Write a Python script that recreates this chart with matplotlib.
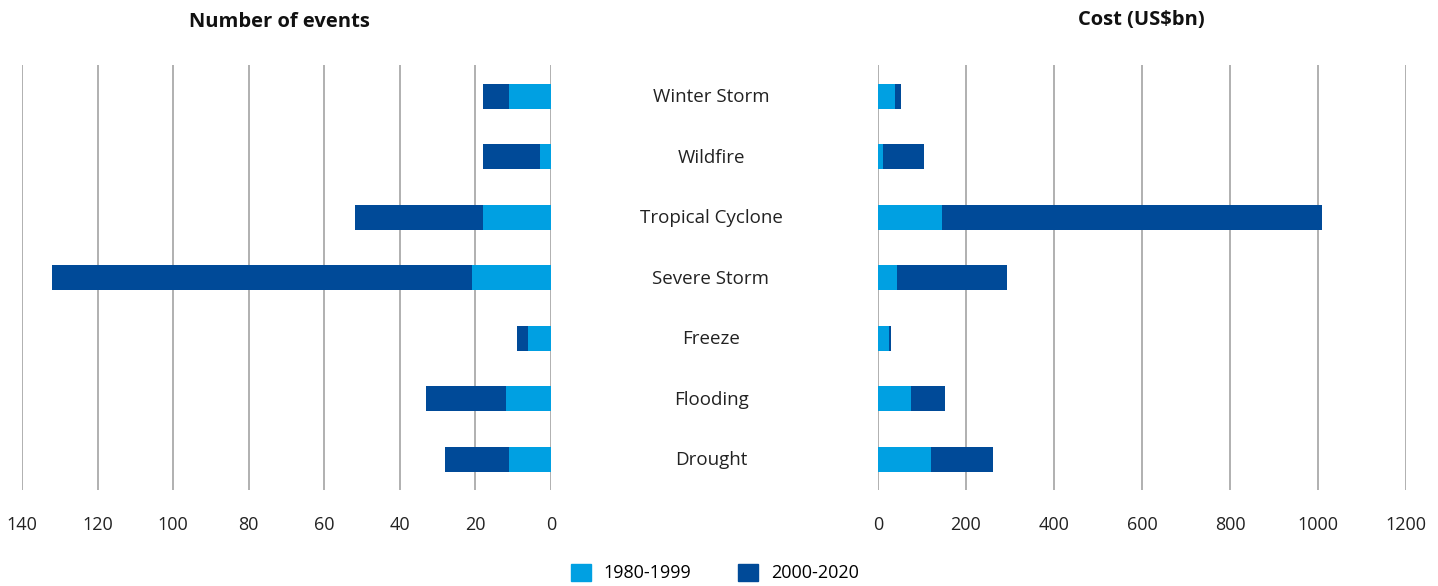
import matplotlib
matplotlib.use("Agg")
import matplotlib.pyplot as plt
import numpy as np

categories = ["Winter Storm", "Wildfire", "Tropical Cyclone", "Severe Storm", "Freeze", "Flooding", "Drought"]
events_1980_1999 = [11, 3, 18, 21, 6, 12, 11]
events_2000_2020 = [7, 15, 34, 111, 3, 21, 17]
cost_1980_1999 = [38, 11, 145, 43, 25, 76, 120]
cost_2000_2020 = [14, 93, 864, 250, 5, 77, 141]
series_labels = ["1980-1999", "2000-2020"]
events_ticks = [0, 20, 40, 60, 80, 100, 120, 140]
cost_ticks = [0, 200, 400, 600, 800, 1000, 1200]

LIGHT = "#00A0E2"
DARK = "#004A98"
GRID = "#AAAAAA"
FONT = "Open Sans"

W, H = 1438, 586
fig = plt.figure(figsize=(W / 100, H / 100), dpi=100)

def frac_x(px):
    return px / W

ax_bottom = (H - 490) / H
ax_height = 425 / H
axL = fig.add_axes([frac_x(22), ax_bottom, frac_x(551 - 22), ax_height])
axR = fig.add_axes([frac_x(878), ax_bottom, frac_x(1406 - 878), ax_height])

y = np.arange(len(categories))
bh = 0.41

for ax, a, b, ticks, xlim in [
    (axL, events_1980_1999, events_2000_2020, events_ticks, (140, 0)),
    (axR, cost_1980_1999, cost_2000_2020, cost_ticks, (0, 1200)),
]:
    ax.barh(y, a, height=bh, color=LIGHT, label=series_labels[0], zorder=3)
    ax.barh(y, b, left=a, height=bh, color=DARK, label=series_labels[1], zorder=3)
    ax.set_xlim(*xlim)
    ax.set_ylim(len(categories) - 0.49, -0.52)
    ax.set_xticks(ticks)
    ax.set_xticklabels([str(t) for t in ticks], fontfamily=FONT, fontsize=13, color="#222222")
    ax.tick_params(axis="x", length=0, pad=19)
    ax.set_yticks([])
    ax.grid(axis="x", color=GRID, linewidth=1.3, zorder=0)
    for s in ax.spines.values():
        s.set_visible(False)

fig.text(frac_x(279), 1 - 22 / H, "Number of events", ha="center", va="center",
         fontfamily=FONT, fontweight="bold", fontsize=14.5, color="#111111")
fig.text(frac_x(1141), 1 - 20 / H, "Cost (US$bn)", ha="center", va="center",
         fontfamily=FONT, fontweight="bold", fontsize=14.5, color="#111111")

for i, c in enumerate(categories):
    ypix = axL.transData.transform((0, i))[1] - 1
    fig.text(frac_x(711), ypix / H, c, ha="center", va="center",
             fontfamily=FONT, fontsize=13.5, color="#222222")

handles = [plt.Rectangle((0, 0), 1, 1, color=LIGHT), plt.Rectangle((0, 0), 1, 1, color=DARK)]
leg = fig.legend(handles, series_labels, loc="center", bbox_to_anchor=(frac_x(715), 1 - 573 / H),
                 ncol=2, frameon=False, handlelength=1.1, handleheight=1.1, handletextpad=0.7,
                 columnspacing=2.6, prop={"family": FONT, "size": 13})

fig.savefig("out.png", dpi=100)
